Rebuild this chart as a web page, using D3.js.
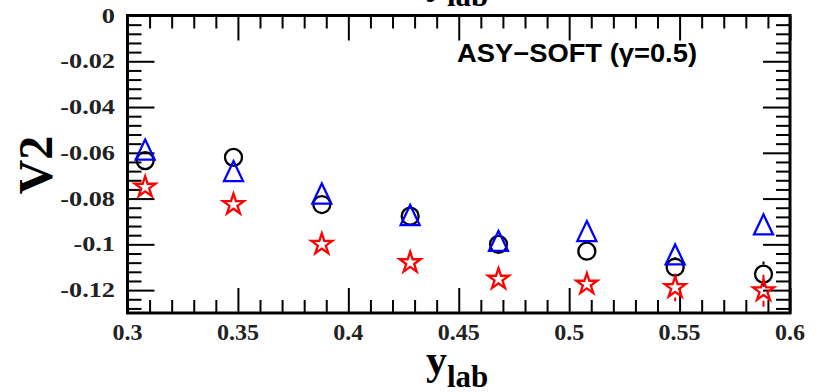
<!DOCTYPE html>
<html>
<head>
<meta charset="utf-8">
<script src="https://cdn.jsdelivr.net/npm/d3@7"></script>
<style>
  body { margin: 0; background: #fff; }
  svg { display: block; }
</style>
</head>
<body>
<div class="container"></div>
<script>
// rapidity bins and v2 values
var ylab = [0.308, 0.348, 0.388, 0.428, 0.468, 0.508, 0.548, 0.588];
var v2Circle   = [-0.0634, -0.0620, -0.0826, -0.0877, -0.1000, -0.1030, -0.1100, -0.1130];
var v2Triangle = [-0.0586, -0.0680, -0.0778, -0.0872, -0.0985, -0.0942, -0.1044, -0.0913];
var v2Star     = [-0.0750, -0.0826, -0.1000, -0.1080, -0.1152, -0.1174, -0.1189, -0.1203];
var errCircle   = [0.002, 0.002, 0.002, 0.002, 0.002, 0.002, 0.0045, 0.0055];
var errTriangle = [0.002, 0.002, 0.002, 0.002, 0.002, 0.002, 0.002, 0.002];
var errStar     = [0.002, 0.002, 0.002, 0.002, 0.002, 0.002, 0.006, 0.007];

var xTicks = [0.3, 0.35, 0.4, 0.45, 0.5, 0.55, 0.6];
var xTickLabels = ['0.3', '0.35', '0.4', '0.45', '0.5', '0.55', '0.6'];
var yTicks = [0, -0.02, -0.04, -0.06, -0.08, -0.1, -0.12];
var yTickLabels = ['0', '-0.02', '-0.04', '-0.06', '-0.08', '-0.1', '-0.12'];
var legendText = 'ASY\u2212SOFT (\u03b3=0.5)';

const width = 821, height = 392;
const padL = 127.5, padR = 790, padT = 15.5, padB = 313;

const x = d3.scaleLinear().domain([0.3, 0.6]).range([padL, padR]);
const y = d3.scaleLinear().domain([-0.13, 0]).range([padB, padT]);

const xMinor = d3.range(0.3, 0.6001, 0.01).filter(v => xTicks.every(t => Math.abs(t - v) > 1e-6));
const yMinor = d3.range(-0.128, 0.0001, 0.004).filter(v => yTicks.every(t => Math.abs(t - v) > 1e-6));

const svg = d3.select('.container').append('svg')
  .attr('width', width).attr('height', height);

function tickAxis(axis, transform) {
  const g = svg.append('g').attr('transform', transform)
    .call(axis.tickFormat('').tickSizeOuter(0));
  g.select('.domain').remove();
  g.selectAll('line').attr('stroke', '#000').attr('stroke-width', 2);
}

// ticks pointing inward on all four sides
tickAxis(d3.axisBottom(x).tickValues(xTicks).tickSize(-25), `translate(0,${padB})`);
tickAxis(d3.axisBottom(x).tickValues(xMinor).tickSize(-13), `translate(0,${padB})`);
tickAxis(d3.axisTop(x).tickValues(xTicks).tickSize(-25), `translate(0,${padT})`);
tickAxis(d3.axisTop(x).tickValues(xMinor).tickSize(-13), `translate(0,${padT})`);
tickAxis(d3.axisLeft(y).tickValues(yTicks).tickSize(-27), `translate(${padL},0)`);
tickAxis(d3.axisLeft(y).tickValues(yMinor).tickSize(-14), `translate(${padL},0)`);
tickAxis(d3.axisRight(y).tickValues(yTicks).tickSize(-27), `translate(${padR},0)`);
tickAxis(d3.axisRight(y).tickValues(yMinor).tickSize(-14), `translate(${padR},0)`);

svg.append('rect')
  .attr('x', padL).attr('y', padT)
  .attr('width', padR - padL).attr('height', padB - padT)
  .attr('fill', 'none').attr('stroke', '#000').attr('stroke-width', 3);

// tick labels
const serif = '"Liberation Serif", "DejaVu Serif", serif';
svg.append('g').selectAll('text').data(xTicks).join('text')
  .attr('x', d => x(d)).attr('y', 340)
  .attr('text-anchor', 'middle')
  .attr('font-family', serif).attr('font-weight', 'bold').attr('font-size', 24)
  .attr('fill', '#222')
  .text((d, i) => xTickLabels[i]);

svg.append('g').selectAll('text').data(yTicks).join('text')
  .attr('transform', d => `translate(115,${y(d) + 7}) scale(1.25,1)`)
  .attr('text-anchor', 'end')
  .attr('font-family', serif).attr('font-weight', 'bold').attr('font-size', 21)
  .attr('fill', '#222')
  .text((d, i) => yTickLabels[i]);

// axis titles
svg.append('text')
  .attr('transform', 'translate(52,165) rotate(-90)')
  .attr('text-anchor', 'middle')
  .attr('font-family', serif).attr('font-weight', 'bold').attr('font-size', 48)
  .text('V2');

function ylabTitle(base) {
  const t = svg.append('text')
    .attr('x', 426).attr('y', base)
    .attr('font-family', serif).attr('font-weight', 'bold');
  t.append('tspan').attr('font-size', 42).text('y');
  t.append('tspan').attr('font-size', 31).attr('dy', 13).text('lab');
}
ylabTitle(374);
// title of the panel above, clipped by the page edge as in the original
ylabTitle(-7);

// legend text
svg.append('text')
  .attr('x', 457).attr('y', 62)
  .attr('font-family', '"Liberation Sans", Arial, sans-serif')
  .attr('font-weight', 'bold').attr('font-size', 25)
  .attr('textLength', 240).attr('lengthAdjust', 'spacingAndGlyphs')
  .text(legendText);

// markers
const plot = svg.append('g');

function errorBars(vals, errs, color, gap) {
  plot.append('g').attr('stroke', color).attr('stroke-width', 2)
    .selectAll('path').data(vals).join('path')
    .attr('d', (d, i) => {
      const cx = x(ylab[i]), cy = y(d);
      const up = y(d + errs[i]), dn = y(d - errs[i]);
      let p = '';
      if (cy - up > gap) p += `M${cx},${up}V${cy - gap}`;
      if (dn - cy > gap) p += `M${cx},${cy + gap}V${dn}`;
      return p || 'M0,0';
    });
}

errorBars(v2Circle, errCircle, '#000', 9.5);
errorBars(v2Triangle, errTriangle, '#0000ff', 11);
errorBars(v2Star, errStar, '#ff0000', 10);

plot.append('g').selectAll('circle').data(v2Circle).join('circle')
  .attr('cx', (d, i) => x(ylab[i])).attr('cy', d => y(d))
  .attr('r', 8.5)
  .attr('fill', 'none').attr('stroke', '#000').attr('stroke-width', 2.3);

const triW = 19, triH = 20;
plot.append('g').selectAll('path').data(v2Triangle).join('path')
  .attr('transform', (d, i) => `translate(${x(ylab[i])},${y(d)})`)
  .attr('d', `M0,${-triH / 2}L${triW / 2},${triH / 2}L${-triW / 2},${triH / 2}Z`)
  .attr('fill', 'none').attr('stroke', '#0000ff').attr('stroke-width', 2.3)
  .attr('stroke-linejoin', 'miter');

plot.append('g').selectAll('path').data(v2Star).join('path')
  .attr('transform', (d, i) => `translate(${x(ylab[i])},${y(d)})`)
  .attr('d', d3.symbol(d3.symbolStar, 136)())
  .attr('fill', 'none').attr('stroke', '#ff0000').attr('stroke-width', 2.3);
</script>
</body>
</html>
